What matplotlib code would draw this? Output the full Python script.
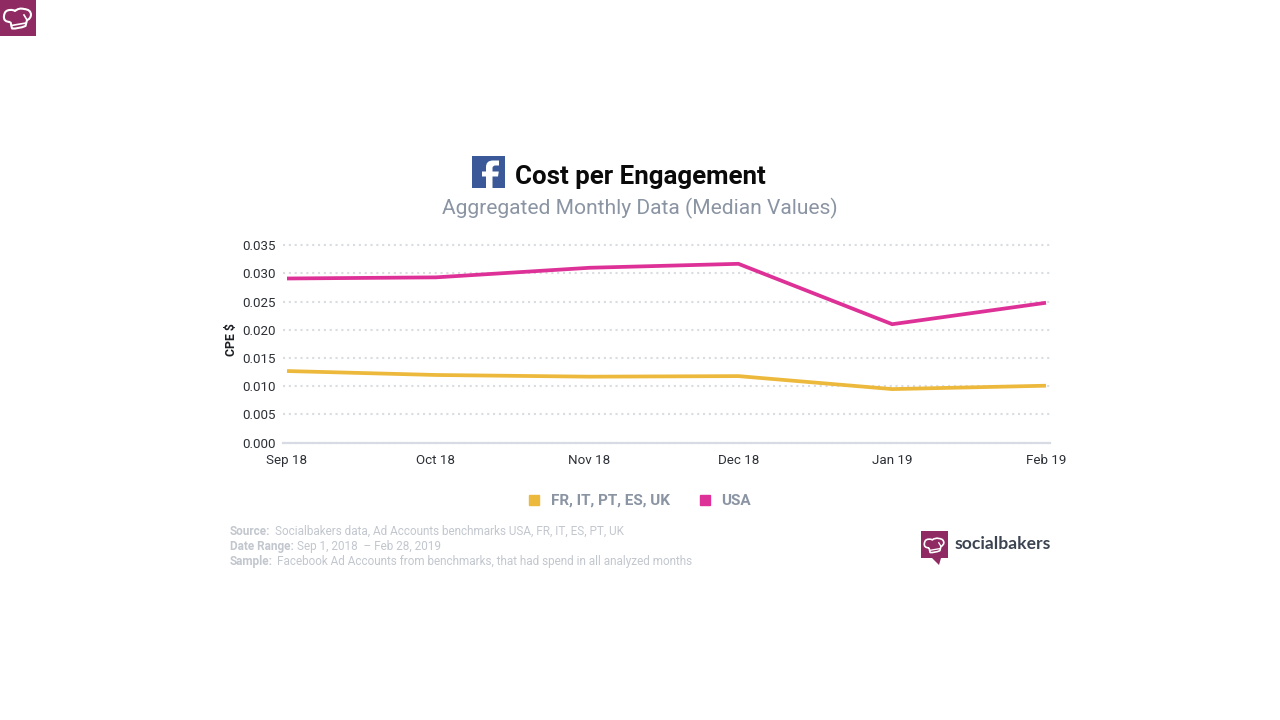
import numpy as np
import matplotlib
matplotlib.use("Agg")
import matplotlib.pyplot as plt
import matplotlib.dates as mdates
from matplotlib.lines import Line2D
from matplotlib.patches import PathPatch, Rectangle, Polygon
from matplotlib.path import Path

plt.rcParams["font.family"] = ["Roboto", "DejaVu Sans"]

months = ["2018-09-01", "2018-10-01", "2018-11-01", "2018-12-01", "2019-01-01", "2019-02-01"]
month_labels = ["Sep 18", "Oct 18", "Nov 18", "Dec 18", "Jan 19", "Feb 19"]
cpe_europe = [0.0127, 0.0120, 0.0117, 0.0118, 0.0095, 0.0101]
cpe_usa = [0.0291, 0.0293, 0.0310, 0.0317, 0.0210, 0.0248]
y_ticks = [0.0, 0.005, 0.010, 0.015, 0.020, 0.025, 0.030, 0.035]

YELLOW = "#edb93c"
PINK = "#de3197"
PLUM = "#8f2a62"
GREY = "#8a94a3"
FOOT = "#c2c7ce"
TICK = "#2c3036"

W, H = 1280, 720


def draw_hat(ax, x0, y0, s, lw):
    # chef hat outline, drawn in a 36 x 36 box
    verts = [(10.5, 22), (3, 22), (4, 16), (4.5, 10), (10, 10), (13, 9.5), (15, 11),
             (19, 7.5), (24, 9), (31, 9.5), (31, 15), (30.5, 19), (27, 20),
             (25.5, 26), (18, 29), (12, 28.5), (10.5, 22)]
    codes = [Path.MOVETO] + [Path.CURVE3] * 12 + [Path.LINETO] + [Path.CURVE3] * 2 + [Path.LINETO]
    pts = [(x0 + x * s, y0 + y * s) for x, y in verts]
    ax.add_patch(PathPatch(Path(pts, codes), fc="none", ec="white", lw=lw, joinstyle="round"))
    ax.plot([x0 + 11.5 * s, x0 + 26 * s], [y0 + 25.5 * s, y0 + 23 * s], color="white", lw=lw * 0.8)
    ax.plot([x0 + 27 * s, x0 + 24 * s], [y0 + 20 * s, y0 + 15 * s], color="white", lw=lw * 0.8)


fig = plt.figure(figsize=(W / 100, H / 100), dpi=100, facecolor="white")

# overlay in pixel coordinates for the title block, logos and footnotes
page = fig.add_axes([0, 0, 1, 1], zorder=0)
page.set_xlim(0, W)
page.set_ylim(H, 0)
page.axis("off")

# chart area
ax = fig.add_axes([283 / W, 1 - 442.7 / H, 767 / W, 197.5 / H], zorder=1)
ax.patch.set_alpha(0)
dates = mdates.datestr2num(months)
day = (dates[-1] - dates[0]) / 759
ax.set_xlim(dates[0] - 4 * day, dates[-1] + 4 * day)
ax.set_ylim(0, 0.035)
line_eu, = ax.plot(dates, cpe_europe, color=YELLOW, lw=2.7, solid_capstyle="butt", solid_joinstyle="miter", zorder=3)
line_us, = ax.plot(dates, cpe_usa, color=PINK, lw=2.7, solid_capstyle="butt", solid_joinstyle="miter", zorder=3)

ax.set_yticks(y_ticks)
ax.set_yticklabels([f"{v:.3f}" for v in y_ticks])
ax.set_xticks(dates)
ax.set_xticklabels(month_labels)
ax.tick_params(axis="both", length=0, labelsize=9.6, labelcolor=TICK)
ax.tick_params(axis="y", pad=5.5)
ax.tick_params(axis="x", pad=8)
ax.grid(axis="y", color="#d9dce0", lw=1.5, ls=(0, (1, 1.8)), zorder=1, clip_on=False)
for name in ["top", "right", "left"]:
    ax.spines[name].set_visible(False)
ax.spines["bottom"].set_color("#d9dbe4")
ax.spines["bottom"].set_linewidth(1.6)

page.text(231, 340, "CPE $", rotation=90, ha="center", va="center", fontsize=8.8, fontweight="bold", color="#1d1f24")

# title block
page.add_patch(Rectangle((472, 156), 33, 32, fc="#3b5998", ec="none"))
f_verts = [(486, 188), (486, 176.5), (482, 176.5), (482, 171.5), (486, 171.5), (486, 167),
           (486, 160.5), (493, 160.5), (499, 160.5), (499, 160.5), (499, 165.5), (495.5, 165.5),
           (492.5, 165.5), (492.5, 168), (492.5, 171.5), (498.8, 171.5), (498, 176.5), (492.5, 176.5), (492.5, 188), (486, 188)]
f_codes = [Path.MOVETO, Path.LINETO, Path.LINETO, Path.LINETO, Path.LINETO, Path.LINETO,
           Path.CURVE3, Path.CURVE3, Path.LINETO, Path.LINETO, Path.LINETO, Path.LINETO,
           Path.CURVE3, Path.CURVE3, Path.LINETO, Path.LINETO, Path.LINETO, Path.LINETO, Path.LINETO, Path.CLOSEPOLY]
page.add_patch(PathPatch(Path(f_verts, f_codes), fc="white", ec="none"))
page.text(515, 177, "Cost per Engagement", ha="left", va="center", fontsize=18.6, fontweight="bold", color="#0a0a0a")
page.text(640, 208.5, "Aggregated Monthly Data (Median Values)", ha="center", va="center", fontsize=15.15, color=GREY)

# legend
handles = [Line2D([], [], ls="none", marker="s", ms=6.6, color=YELLOW),
           Line2D([], [], ls="none", marker="s", ms=6.6, color=PINK)]
leg = fig.legend(handles, ["FR, IT, PT, ES, UK", "USA"], ncol=2, frameon=False, loc="center",
                 bbox_to_anchor=(639 / W, 1 - 501 / H), handletextpad=0.62, columnspacing=1.74,
                 handlelength=1.0, borderpad=0, prop={"weight": "bold", "size": 10.95})
for t in leg.get_texts():
    t.set_color(GREY)

# footnotes
foot = [(531.5, "Source:", 275, "Socialbakers data, Ad Accounts benchmarks USA, FR, IT, ES, PT, UK"),
        (546.5, "Date Range:", 297, "Sep 1, 2018  \u2013 Feb 28, 2019"),
        (561, "Sample:", 277, "Facebook Ad Accounts from benchmarks, that had spend in all analyzed months")]
for y, head, x, body in foot:
    page.text(230, y, head, ha="left", va="center", fontsize=8.5, fontweight="bold", color=FOOT)
    page.text(x, y, body, ha="left", va="center", fontsize=8.5, color=FOOT)

# logos
page.add_patch(Rectangle((0, 0), 36, 36, fc=PLUM, ec="none"))
draw_hat(page, 0, 0, 1.0, 1.5)

page.add_patch(Polygon([(921, 531), (948, 531), (948, 558), (941, 558), (939, 565), (932, 558), (921, 558)],
                       closed=True, fc=PLUM, ec="none"))
draw_hat(page, 921.5, 532, 0.72, 1.2)
page.text(954.5, 544, "socialbakers", ha="left", va="center", fontsize=12.6, fontweight="bold",
          family="Lato", color="#3c4452")

fig.savefig("out.png", dpi=100)
